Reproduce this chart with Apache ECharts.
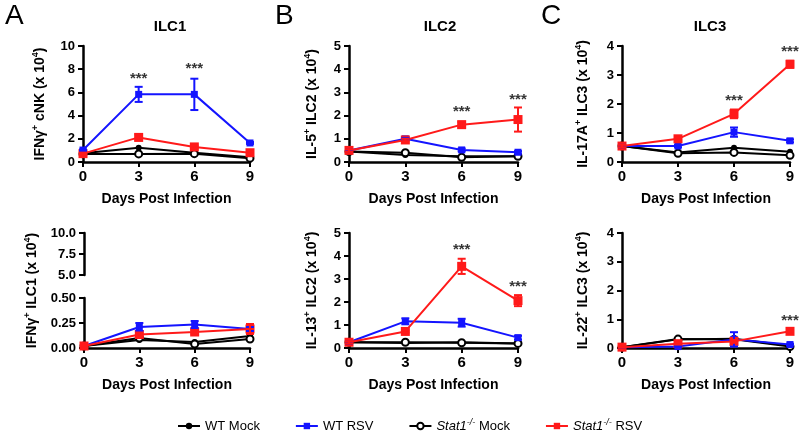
<!DOCTYPE html>
<html><head><meta charset="utf-8">
<script src="https://cdn.jsdelivr.net/npm/echarts@6/dist/echarts.min.js"></script>
<style>html,body{margin:0;padding:0;background:#fff}#c{width:800px;height:434px}</style>
</head><body><div id="c"></div>
<script>
const days = [0, 3, 6, 9];
const seriesNames = ['WT Mock', 'WT RSV', 'Stat1 Mock', 'Stat1 RSV'];
const panelTitles = ['ILC1', 'ILC2', 'ILC3'];
const panelLetters = ['A', 'B', 'C'];

// Panel A top: IFNγ+ cNK
const cnkWTMock   = [0.75, 1.22, 0.8, 0.4];
const cnkWTRSV    = [1.03, 5.83, 5.83, 1.64];
const cnkStatMock = [0.7, 0.7, 0.72, 0.33];
const cnkStatRSV  = [0.72, 2.12, 1.3, 0.8];
const cnkWTRSVErr   = [0.05, 0.65, 1.35, 0.08];
const cnkStatRSVErr = [0.05, 0.25, 0.12, 0.12];
const cnkSig = [[3, 7.5], [6, 8.4]];

// Panel A bottom: IFNγ+ ILC1 (broken axis)
const ilc1WTMock   = [0.02, 0.08, 0.06, 0.12];
const ilc1WTRSV    = [0.02, 0.21, 0.235, 0.19];
const ilc1StatMock = [0.02, 0.1, 0.04, 0.09];
const ilc1StatRSV  = [0.02, 0.135, 0.16, 0.19];
const ilc1WTRSVErr   = [0.01, 0.04, 0.035, 0.02];
const ilc1StatRSVErr = [0.01, 0.02, 0.02, 0.05];

// Panel B top: IL-5+ ILC2
const il5WTMock   = [0.45, 0.3, 0.25, 0.25];
const il5WTRSV    = [0.5, 1.0, 0.52, 0.42];
const il5StatMock = [0.45, 0.4, 0.2, 0.25];
const il5StatRSV  = [0.5, 0.95, 1.61, 1.83];
const il5WTRSVErr   = [0.03, 0.04, 0.06, 0.05];
const il5StatRSVErr = [0.05, 0.05, 0.12, 0.52];
const il5Sig = [[6, 2.33], [9, 2.84]];

// Panel B bottom: IL-13+ ILC2
const il13WTMock   = [0.25, 0.22, 0.25, 0.2];
const il13WTRSV    = [0.25, 1.16, 1.1, 0.45];
const il13StatMock = [0.25, 0.25, 0.23, 0.2];
const il13StatRSV  = [0.25, 0.72, 3.55, 2.06];
const il13WTRSVErr   = [0.05, 0.13, 0.17, 0.08];
const il13StatRSVErr = [0.05, 0.05, 0.33, 0.24];
const il13Sig = [[6, 4.42], [9, 2.85]];

// Panel C top: IL-17A+ ILC3
const il17WTMock   = [0.55, 0.33, 0.49, 0.35];
const il17WTRSV    = [0.55, 0.55, 1.03, 0.73];
const il17StatMock = [0.55, 0.3, 0.33, 0.23];
const il17StatRSV  = [0.55, 0.8, 1.66, 3.37];
const il17WTRSVErr   = [0.04, 0.04, 0.16, 0.05];
const il17StatRSVErr = [0.04, 0.06, 0.15, 0.12];
const il17Sig = [[6, 2.25], [9, 3.92]];

// Panel C bottom: IL-22+ ILC3
const il22WTMock   = [0.03, 0.3, 0.32, 0.08];
const il22WTRSV    = [0.03, 0.05, 0.3, 0.12];
const il22StatMock = [0.03, 0.31, 0.3, 0.05];
const il22StatRSV  = [0.03, 0.15, 0.23, 0.58];
const il22WTRSVErr   = [0.0, 0.02, 0.25, 0.03];
const il22StatRSVErr = [0.0, 0.03, 0.05, 0.09];
const il22Sig = [[9, 1.08]];

const FONT = '"Liberation Sans", Arial, Helvetica, sans-serif';
const COL = { 'WT Mock': '#000000', 'WT RSV': '#1414ff', 'Stat1 Mock': '#000000', 'Stat1 RSV': '#ff1a1a' };

const grids = [
  { left: 83, top: 46, width: 167, height: 116 },   // 0 A top
  { left: 349, top: 46, width: 169, height: 116 },  // 1 B top
  { left: 622, top: 46, width: 168, height: 116 },  // 2 C top
  { left: 84, top: 298, width: 166, height: 50 },   // 3 A bottom lower
  { left: 84, top: 233, width: 166, height: 42 },   // 4 A bottom upper
  { left: 349, top: 233, width: 169, height: 115 }, // 5 B bottom
  { left: 622, top: 233, width: 168, height: 115 }, // 6 C bottom
  { left: 84, top: 233, width: 166, height: 115 }   // 7 A bottom name holder
];

const nameRich = {
  b: { fontFamily: FONT, fontWeight: 'bold', fontSize: 14, color: '#000', lineHeight: 18 },
  sup: { fontFamily: FONT, fontWeight: 'bold', fontSize: 9, color: '#000', verticalAlign: 'top', lineHeight: 18 }
};

function xAxisFor(gi, show) {
  return {
    type: 'value', gridIndex: gi, min: 0, max: 9, interval: 3, show: show,
    axisLine: { show: true, onZero: false, lineStyle: { color: '#000', width: 2.5 } },
    axisTick: { show: true, length: 5, lineStyle: { color: '#000', width: 2 } },
    splitLine: { show: false },
    axisLabel: { color: '#000', fontFamily: FONT, fontWeight: 'bold', fontSize: 15, margin: 7 },
    name: 'Days Post Infection', nameLocation: 'middle', nameGap: 30,
    nameTextStyle: { color: '#000', fontFamily: FONT, fontWeight: 'bold', fontSize: 14 }
  };
}
function yAxisFor(gi, min, max, interval, name, gap, dec) {
  return {
    type: 'value', gridIndex: gi, min: min, max: max, interval: interval,
    axisLine: { show: true, lineStyle: { color: '#000', width: 2.5 } },
    axisTick: { show: true, length: 5, lineStyle: { color: '#000', width: 2 } },
    splitLine: { show: false },
    axisLabel: { color: '#000', fontFamily: FONT, fontWeight: 'bold', fontSize: 13, margin: 8,
      formatter: v => dec == null ? String(v) : v.toFixed(dec) },
    name: name, nameLocation: 'middle', nameGap: gap, nameRotate: 90,
    nameTextStyle: { rich: nameRich }
  };
}

const xAxes = [
  xAxisFor(0, true), xAxisFor(1, true), xAxisFor(2, true), xAxisFor(3, true),
  xAxisFor(4, false), xAxisFor(5, true), xAxisFor(6, true), xAxisFor(7, false)
];
const yAxes = [
  yAxisFor(0, 0, 10, 2, '{b|IFNγ}{sup|+}{b| cNK (x 10}{sup|4}{b|)}', 34),
  yAxisFor(1, 0, 5, 1, '{b|IL-5}{sup|+}{b| ILC2 (x 10}{sup|4}{b|)}', 28),
  yAxisFor(2, 0, 4, 1, '{b|IL-17A}{sup|+}{b| ILC3 (x 10}{sup|4}{b|)}', 30),
  yAxisFor(3, 0, 0.5, 0.25, '', 30, 2),
  yAxisFor(4, 5, 10, 2.5, '', 30, 1),
  yAxisFor(5, 0, 5, 1, '{b|IL-13}{sup|+}{b| ILC2 (x 10}{sup|4}{b|)}', 28),
  yAxisFor(6, 0, 4, 1, '{b|IL-22}{sup|+}{b| ILC3 (x 10}{sup|4}{b|)}', 30),
  Object.assign(yAxisFor(7, 0, 1, 1, '{b|IFNγ}{sup|+}{b| ILC1 (x 10}{sup|4}{b|)}', 43), {
    axisLine: { show: false }, axisTick: { show: false }, axisLabel: { show: false }
  })
];

const series = [];
function styleFor(name) {
  const c = COL[name];
  const base = { name: name, type: 'line', lineStyle: { color: c, width: 2 }, itemStyle: { color: c }, z: 3 };
  if (name === 'WT Mock') { base.symbol = 'circle'; base.symbolSize = 6; }
  if (name === 'Stat1 Mock') { base.symbol = 'emptyCircle'; base.symbolSize = 7; base.itemStyle = { color: c, borderColor: c, borderWidth: 2 }; }
  if (name === 'WT RSV') { base.symbol = 'rect'; base.symbolSize = 7; base.z = 4; }
  if (name === 'Stat1 RSV') { base.symbol = 'rect'; base.symbolSize = 9; base.z = 5; }
  return base;
}
function errSeries(gi, vals, errs, color) {
  return {
    type: 'custom', xAxisIndex: gi, yAxisIndex: gi, z: 6, silent: true,
    encode: { x: 0, y: [1, 2] },
    data: days.map((d, i) => [d, vals[i] - errs[i], vals[i] + errs[i]]),
    renderItem: (params, api) => {
      const x = api.value(0);
      const lo = api.coord([x, api.value(1)]);
      const hi = api.coord([x, api.value(2)]);
      const w = 4;
      const st = { stroke: color, lineWidth: 2 };
      return { type: 'group', children: [
        { type: 'line', shape: { x1: lo[0], y1: lo[1], x2: hi[0], y2: hi[1] }, style: st },
        { type: 'line', shape: { x1: hi[0] - w, y1: hi[1], x2: hi[0] + w, y2: hi[1] }, style: st },
        { type: 'line', shape: { x1: lo[0] - w, y1: lo[1], x2: lo[0] + w, y2: lo[1] }, style: st }
      ]};
    }
  };
}
function sigSeries(gi, pts) {
  return {
    type: 'scatter', xAxisIndex: gi, yAxisIndex: gi, silent: true, z: 7,
    symbolSize: 1, itemStyle: { color: 'rgba(0,0,0,0)' },
    data: pts,
    label: { show: true, position: 'inside', formatter: '***', color: '#000',
      fontFamily: FONT, fontWeight: 'bold', fontSize: 15, offset: [0, 4] }
  };
}
function panel(gi, wm, wr, sm, sr, wrErr, srErr, sig) {
  const sets = [['WT Mock', wm], ['Stat1 Mock', sm], ['WT RSV', wr], ['Stat1 RSV', sr]];
  sets.forEach(([n, v]) => {
    const s = styleFor(n);
    s.xAxisIndex = gi; s.yAxisIndex = gi;
    s.data = days.map((d, i) => [d, v[i]]);
    series.push(s);
  });
  series.push(errSeries(gi, wr, wrErr, COL['WT RSV']));
  series.push(errSeries(gi, sr, srErr, COL['Stat1 RSV']));
  if (sig) series.push(sigSeries(gi, sig));
}
panel(0, cnkWTMock, cnkWTRSV, cnkStatMock, cnkStatRSV, cnkWTRSVErr, cnkStatRSVErr, cnkSig);
panel(1, il5WTMock, il5WTRSV, il5StatMock, il5StatRSV, il5WTRSVErr, il5StatRSVErr, il5Sig);
panel(2, il17WTMock, il17WTRSV, il17StatMock, il17StatRSV, il17WTRSVErr, il17StatRSVErr, il17Sig);
panel(3, ilc1WTMock, ilc1WTRSV, ilc1StatMock, ilc1StatRSV, ilc1WTRSVErr, ilc1StatRSVErr, null);
panel(5, il13WTMock, il13WTRSV, il13StatMock, il13StatRSV, il13WTRSVErr, il13StatRSVErr, il13Sig);
panel(6, il22WTMock, il22WTRSV, il22StatMock, il22StatRSV, il22WTRSVErr, il22StatRSVErr, il22Sig);

const titleCenters = [165, 435, 705];
const letterLefts = [0, 270, 536];
const titles = [];
panelTitles.forEach((t, i) => titles.push({ text: t, left: titleCenters[i], top: 14, textAlign: 'center',
  textStyle: { fontFamily: FONT, fontWeight: 'bold', fontSize: 15, color: '#000' } }));
panelLetters.forEach((t, i) => titles.push({ text: t, left: letterLefts[i], top: -3,
  textStyle: { fontFamily: FONT, fontWeight: 'normal', fontSize: 28, color: '#000' } }));

const chart = echarts.init(document.getElementById('c'), null, { renderer: 'canvas' });
chart.setOption({
  animation: false,
  backgroundColor: '#fff',
  title: titles,
  grid: grids,
  xAxis: xAxes,
  yAxis: yAxes,
  legend: {
    data: ['WT Mock', 'WT RSV', 'Stat1 Mock', 'Stat1 RSV'],
    left: 172, top: 413, itemWidth: 22, itemHeight: 8, itemGap: 35,
    textStyle: { fontFamily: FONT, fontSize: 13, color: '#000',
      rich: {
        i: { fontFamily: FONT, fontSize: 13, fontStyle: 'italic', color: '#000', lineHeight: 16 },
        s: { fontFamily: FONT, fontSize: 9, fontStyle: 'italic', color: '#000', verticalAlign: 'top', lineHeight: 16 },
        n: { fontFamily: FONT, fontSize: 13, color: '#000', lineHeight: 16 }
      } },
    formatter: name => name.startsWith('Stat1') ? '{i|Stat1}{s|-/-}{n| ' + name.slice(6) + '}' : '{n|' + name + '}'
  },
  series: series
});
</script></body></html>
